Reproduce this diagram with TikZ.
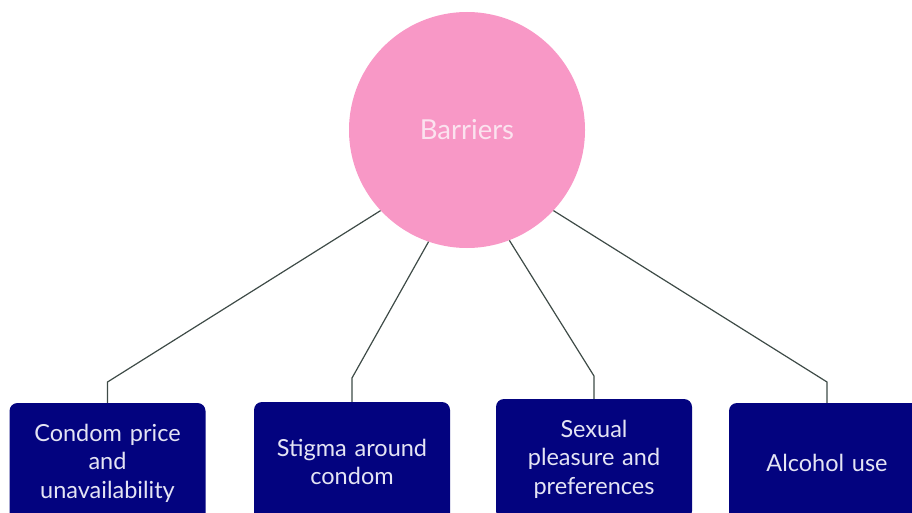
\documentclass[tikz,border=0pt]{standalone}
\usepackage{fontspec}
\setmainfont{Lato}
\definecolor{hubpink}{HTML}{F898C6}
\definecolor{hubtext}{HTML}{FBE3EF}
\definecolor{boxnavy}{HTML}{03037F}
\definecolor{boxtext}{HTML}{E4E4F4}
\definecolor{linkgrey}{HTML}{3E4B47}
\begin{document}
\begin{tikzpicture}[x=1pt,y=-1pt,
  hub/.style={circle,fill=hubpink,draw=none,minimum size=236pt,inner sep=0pt,
    text=hubtext,font=\fontsize{27.5}{32}\selectfont},
  barrier/.style={rounded corners=8pt,fill=boxnavy,draw=none,minimum width=196pt,
    minimum height=120pt,inner sep=0pt,text width=190pt,align=center,
    text=boxtext,font=\fontsize{23.5}{28.5}\selectfont},
  link/.style={draw=linkgrey,line width=1.2pt}]
\useasboundingbox (0,0) rectangle (912,513);
\clip (0,0) rectangle (912,513);

\node[hub] (c) at (467,130) {Barriers};

\node[barrier] (b1) at (107.5,463) {Condom price\\and\\unavailability};
\node[barrier] (b2) at (352,462) {Stigma around\\condom};
\node[barrier] (b3) at (594,459) {Sexual\\pleasure and\\preferences};
\node[barrier] (b4) at (827,463) {Alcohol use};

\coordinate (k1) at (107.5,382);
\coordinate (k2) at (352,378);
\coordinate (k3) at (594,376);
\coordinate (k4) at (827,382);

\draw[link] (c.223) -- (k1) -- (b1.north);
\draw[link] (c.251.5) -- (k2) -- (b2.north);
\draw[link] (c.291.5) -- (k3) -- (b3.north);
\draw[link] (c.317) -- (k4) -- (b4.north);
\end{tikzpicture}
\end{document}
